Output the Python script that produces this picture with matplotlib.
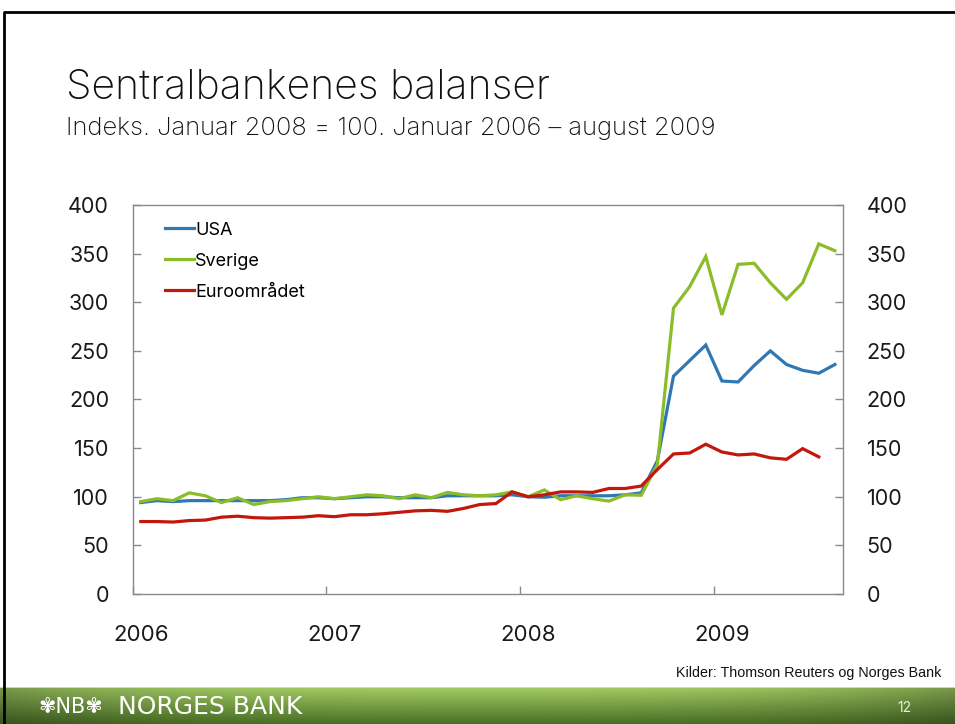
import matplotlib
matplotlib.use('Agg')
import matplotlib.pyplot as plt
import matplotlib.transforms as mtrans
from matplotlib.lines import Line2D
import numpy as np

plt.rcParams['font.family'] = ['Inter', 'DejaVu Sans']

# ---Data: monthly index, Jan 2006 - Aug 2009 (Jan 2008 = 100)---
usa = [94, 96, 95, 96, 96, 96, 96, 96, 96, 97, 99, 99,
       98, 99, 100, 100, 99, 99, 99, 101, 101, 101, 101, 102,
       100, 99.5, 101, 101, 101, 101, 102, 104, 137, 224, 240, 256,
       219, 218, 235, 250, 236, 230, 227, 236]
sverige = [95, 98, 96, 104, 101, 94, 99, 92, 95, 96, 98, 100,
           98, 100, 102, 101, 98, 102, 99, 104.5, 102, 101, 102, 105,
           100, 107, 97, 101, 98, 95.5, 102, 101.5, 133, 294, 316, 347,
           287, 339, 340, 320, 303, 320, 360, 353]
euro = [74.5, 74.5, 74, 75.5, 76, 79, 80, 78.5, 78, 78.5, 79, 80.5,
        79.5, 81.5, 81.5, 82.5, 84, 85.5, 86, 85, 88, 92, 93, 105,
        100, 102, 105, 105, 104.5, 108.5, 108.5, 111, 128, 144, 145, 154,
        146, 143, 144, 140, 138.5, 149.5, 141]
years = ['2006', '2007', '2008', '2009']

blue = '#2f78b4'
green = '#8bbd2a'
red = '#c2170c'
grey = '#8a8a8a'

fig = plt.figure(figsize=(9.55, 7.24), dpi=100)
fig.patch.set_facecolor('white')

ax = fig.add_axes([132.7 / 955, 130 / 724, (843 - 132.7) / 955, 389 / 724])
x_us = np.arange(len(usa)) + 0.5
x_eu = np.arange(len(euro)) + 0.5
ax.plot(x_us, usa, color=blue, lw=2.3, label='USA', solid_joinstyle='miter')
ax.plot(x_us, sverige, color=green, lw=2.3, label='Sverige', solid_joinstyle='miter')
ax.plot(x_eu, euro, color=red, lw=2.3, label='Euroområdet', solid_joinstyle='miter')

ax.set_xlim(0, 44)
ax.set_ylim(0, 400)
ax.set_yticks(range(0, 401, 50))
ax.set_xticks([0, 12, 24, 36])
ax.set_xticklabels(years)
for s in ax.spines.values():
    s.set_color(grey)
    s.set_linewidth(1.0)
ax.tick_params(axis='y', direction='in', length=6, color=grey, width=1,
               labelsize=15.5, pad=17, right=True, labelright=True,
               labelcolor='#1a1a1a')
ax.tick_params(axis='x', direction='in', length=6, color=grey, width=1,
               labelsize=16, pad=22, labelcolor='#1a1a1a')
offset = mtrans.ScaledTranslation(8 / 100, 0, fig.dpi_scale_trans)
for lbl in ax.get_xticklabels():
    lbl.set_transform(lbl.get_transform() + offset)

ax.legend(loc='upper left', bbox_to_anchor=(0.028, 0.99), frameon=False,
          fontsize=13, handlelength=1.6, handletextpad=0.05,
          labelspacing=0.78, borderaxespad=0.3)

# ---Slide text---
fig.text(66 / 955, 1 - 88 / 724, 'Sentralbankenes balanser', fontsize=29.5,
         va='center', ha='left', color='#111111', fontweight='light')
fig.text(66 / 955, 1 - 128 / 724,
         'Indeks. Januar 2008 = 100. Januar 2006 \u2013 august 2009',
         fontsize=18.4, va='center', ha='left', color='#111111',
         fontweight='light')
fig.text(676 / 955, 1 - 673 / 724, 'Kilder: Thomson Reuters og Norges Bank',
         fontsize=10.3, va='center', ha='left', color='#111111',
         family=['Liberation Sans Narrow', 'Liberation Sans'])

# ---Footer bar---
fax = fig.add_axes([0, 0, 1, 37 / 724])
fax.set_axis_off()
top = np.array([0.64, 0.80, 0.39])
bot = np.array([0.29, 0.44, 0.15])
t = np.linspace(0, 1, 40)[:, None, None]
grad = top * (1 - t) + bot * t
h = np.linspace(-1, 1, 200)[None, :, None]
shade = 1 - 0.25 * np.abs(h) ** 3
img = np.clip(grad * shade, 0, 1)
img[0, :, :] = [0.82, 0.90, 0.65]
fax.imshow(img, aspect='auto', extent=[0, 1, 0, 1], interpolation='bilinear')
fax.set_xlim(0, 1)
fax.set_ylim(0, 1)
fax.text(38 / 955, 0.45, '\u273eNB\u273e', fontsize=15, color='white',
         va='center', ha='left', family=['DejaVu Sans'])
fax.text(118 / 955, 0.45, 'NORGES BANK', fontsize=18, color='white',
         va='center', ha='left', family=['DejaVu Sans'])
fax.text(897 / 955, 0.42, '12', fontsize=10, color='#e8f0dc',
         va='center', ha='left')

# ---Slide border---
fig.add_artist(Line2D([4 / 955, 4 / 955, 1.0], [0, 1 - 12 / 724, 1 - 12 / 724],
                      transform=fig.transFigure, color='black', lw=2))

fig.savefig('out.png', dpi=100)
